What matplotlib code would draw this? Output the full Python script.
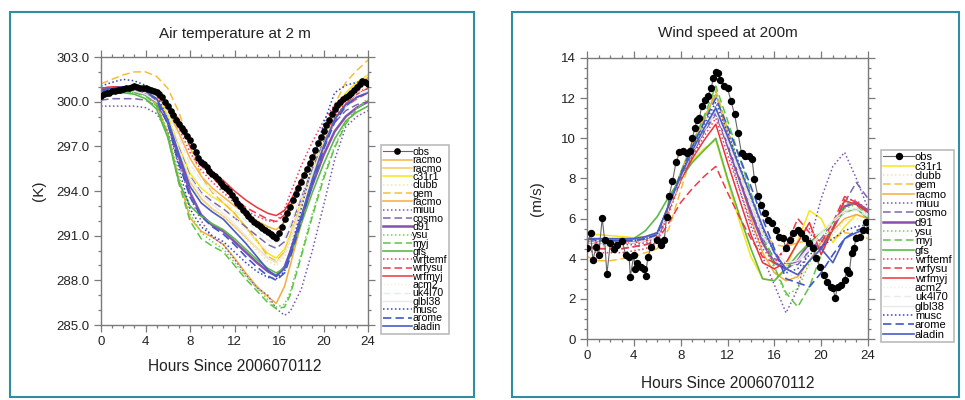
import numpy as np
import matplotlib
matplotlib.use("Agg")
import matplotlib.pyplot as plt
from matplotlib.patches import FancyBboxPatch
from matplotlib.ticker import MultipleLocator, FormatStrFormatter

plt.rcParams['font.family'] = ['Liberation Sans', 'DejaVu Sans']

# ---------------- data: 2 m air temperature ----------------
obs_t_hours = np.arange(0, 24.01, 0.25)
obs_t_vals = [300.35, 300.5, 300.6, 300.55, 300.7, 300.75, 300.8, 300.8, 300.85, 300.9,
              300.95, 301.0, 301.05, 301.0, 300.95, 300.95, 300.9, 300.85, 300.8, 300.75,
              300.65, 300.5, 300.3, 300.0, 299.7, 299.4, 299.1, 298.8, 298.5, 298.25,
              298.0, 297.7, 297.4, 297.0, 296.6, 296.2, 295.95, 295.8, 295.6, 295.35,
              295.15, 295.0, 294.8, 294.55, 294.35, 294.2, 294.0, 293.7, 293.45, 293.2,
              293.0, 292.75, 292.55, 292.35, 292.15, 291.95, 291.8, 291.65, 291.5, 291.4,
              291.25, 291.1, 291.0, 290.85, 291.15, 291.6, 292.1, 292.5, 292.95, 293.4,
              293.8, 294.2, 294.6, 295.05, 295.5, 295.9, 296.3, 296.75, 297.2, 297.6,
              298.0, 298.4, 298.8, 299.15, 299.5, 299.8, 300.0, 300.15, 300.3, 300.45,
              300.6, 300.8, 301.0, 301.2, 301.4, 301.35, 301.2]

t_hours = [0, 1, 2, 3, 4, 5, 6, 7, 8, 9, 10, 11, 12, 13, 14, 15, 15.75, 16.5,
           17, 18, 19, 20, 21, 22, 23, 24]

t_labels = ["racmo", "racmo", "c31r1", "clubb", "gem", "racmo", "miuu", "cosmo", "d91",
            "ysu", "myj", "gfs", "wrftemf", "wrfysu", "wrfmyj", "acm2", "uk4l70",
            "glbl38", "musc", "arome", "aladin"]

t_racmo_a = [300.7, 300.9, 301.0, 300.9, 300.8, 300.4, 299.4, 297.9, 296.2, 295.0, 294.2, 293.6, 293.0,
             292.5, 292.0, 291.6, 291.4, 291.9, 292.7, 294.5, 296.2, 297.8, 299.2, 300.3, 301.1, 301.6]
t_racmo_b = [300.6, 300.8, 300.9, 300.8, 300.7, 300.2, 298.9, 296.6, 294.6, 293.5, 292.8, 292.3, 291.6,
             290.9, 290.2, 289.5, 289.2, 289.9, 290.8, 293.0, 295.2, 297.2, 298.9, 300.2, 301.0, 301.5]
t_c31r1 = [300.8, 301.0, 301.0, 300.9, 300.8, 300.3, 299.1, 297.0, 295.2, 294.2, 293.6, 293.2, 292.5,
           291.6, 290.6, 289.8, 289.5, 290.1, 291.1, 293.4, 295.6, 297.6, 299.4, 300.6, 301.3, 301.8]
t_clubb = [300.5, 300.7, 300.8, 300.8, 300.6, 300.1, 298.8, 296.5, 294.5, 293.4, 292.8, 292.3, 291.6,
           290.8, 290.0, 289.3, 289.0, 289.6, 290.5, 292.7, 294.9, 296.9, 298.6, 299.9, 300.7, 301.2]
t_gem = [301.2, 301.5, 301.8, 302.0, 302.0, 301.7, 300.9, 299.3, 297.0, 295.0, 293.9, 293.2, 292.5,
         291.6, 290.7, 289.6, 289.3, 289.9, 290.9, 293.3, 295.7, 297.9, 299.8, 301.3, 302.1, 302.8]
t_racmo_c = [300.4, 300.7, 300.8, 300.7, 300.5, 299.8, 297.9, 294.8, 292.2, 291.3, 290.9, 290.4, 289.5,
             288.5, 287.6, 286.9, 286.45, 287.6, 289.0, 291.8, 294.5, 296.8, 298.7, 300.2, 301.1, 301.6]
t_miuu = [299.7, 299.7, 299.7, 299.7, 299.6, 299.2, 298.0, 295.8, 293.6, 292.0, 290.9, 290.4, 289.4,
          288.4, 287.5, 287.0, 286.1, 285.65, 285.9, 287.4, 290.0, 293.0, 296.1, 298.3, 299.0, 299.4]
t_cosmo = [300.1, 300.2, 300.2, 300.2, 300.1, 299.7, 298.7, 296.9, 295.0, 293.9, 293.3, 292.8, 292.2,
           291.6, 291.0, 290.4, 290.15, 290.6, 291.5, 293.5, 295.5, 297.3, 298.6, 299.4, 299.8, 300.0]
t_d91 = [300.5, 300.7, 300.8, 300.7, 300.5, 300.0, 298.6, 296.3, 293.9, 292.4, 291.7, 291.3, 290.6,
         289.9, 289.2, 288.6, 288.3, 288.9, 289.9, 292.2, 294.4, 296.4, 298.0, 299.0, 299.6, 300.0]
t_ysu = [300.3, 300.6, 300.7, 300.6, 300.4, 299.8, 298.0, 295.0, 292.5, 291.2, 290.6, 290.1, 289.2,
         288.3, 287.5, 286.7, 286.2, 286.4, 287.2, 289.8, 292.5, 295.0, 297.0, 298.6, 299.6, 300.2]
t_myj = [300.4, 300.6, 300.7, 300.6, 300.4, 299.7, 297.7, 294.5, 292.0, 290.8, 290.3, 289.9, 289.0,
         288.1, 287.3, 286.5, 286.1, 286.2, 287.0, 289.6, 292.3, 294.8, 296.9, 298.5, 299.5, 300.1]
t_gfs = [300.5, 300.6, 300.6, 300.5, 300.2, 299.5, 297.6, 294.6, 293.0, 292.3, 291.8, 291.4, 290.8,
         290.1, 289.4, 288.8, 288.5, 288.8, 289.6, 291.8, 293.9, 295.8, 297.5, 298.7, 299.3, 299.7]
t_wrftemf = [300.8, 300.9, 301.0, 300.9, 300.8, 300.4, 299.4, 298.2, 296.6, 295.4, 294.6, 293.9, 293.2,
             292.7, 292.3, 292.0, 291.9, 292.8, 293.8, 295.7, 297.3, 298.7, 299.8, 300.4, 300.7, 300.9]
t_wrfysu = [300.9, 301.0, 301.0, 300.9, 300.8, 300.5, 299.6, 298.5, 297.0, 295.7, 294.9, 294.2, 293.5,
            292.9, 292.5, 292.1, 291.95, 292.4, 293.0, 294.6, 296.2, 297.7, 298.9, 299.7, 300.2, 300.6]
t_wrfmyj = [300.9, 301.0, 301.0, 301.0, 300.9, 300.6, 299.8, 298.8, 297.3, 296.1, 295.3, 294.7, 294.0,
            293.4, 292.9, 292.5, 292.35, 292.7, 293.3, 294.8, 296.3, 297.8, 299.0, 299.9, 300.5, 300.9]
t_acm2 = [300.6, 300.8, 300.9, 300.8, 300.6, 300.1, 299.0, 297.2, 295.4, 294.3, 293.6, 293.0, 292.2,
          291.4, 290.6, 290.0, 289.8, 290.3, 291.2, 293.4, 295.6, 297.5, 299.0, 300.0, 300.6, 301.0]
t_uk4l70 = [300.7, 300.9, 300.9, 300.8, 300.7, 300.3, 299.3, 297.6, 295.8, 294.7, 294.0, 293.4, 292.7,
            292.0, 291.3, 290.7, 290.5, 290.9, 291.7, 293.8, 295.9, 297.7, 299.1, 300.0, 300.5, 300.8]
t_glbl38 = [300.5, 300.7, 300.8, 300.7, 300.5, 300.0, 298.8, 296.8, 294.9, 293.8, 293.1, 292.5, 291.8,
            291.0, 290.2, 289.5, 289.2, 289.8, 290.8, 293.0, 295.2, 297.1, 298.7, 299.7, 300.3, 300.7]
t_musc = [301.05, 301.3, 301.5, 301.4, 301.1, 300.5, 298.8, 295.5, 292.8, 291.6, 291.0, 290.6, 289.9,
          289.2, 288.6, 288.2, 288.1, 288.6, 289.9, 292.8, 295.8, 298.5, 300.6, 301.1, 301.3, 301.5]
t_arome = [300.7, 300.9, 301.0, 300.9, 300.7, 300.1, 298.5, 295.9, 293.6, 292.3, 291.6, 291.1, 290.4,
           289.6, 288.9, 288.3, 288.0, 288.5, 289.5, 292.0, 294.5, 296.8, 298.6, 299.7, 300.3, 300.6]
t_aladin = [300.8, 300.9, 301.0, 300.9, 300.7, 300.2, 298.8, 296.5, 294.3, 293.2, 292.6, 292.1, 291.3,
            290.5, 289.6, 288.7, 288.25, 288.8, 289.8, 292.3, 294.8, 297.0, 298.8, 299.8, 300.3, 300.6]

t_series = [t_racmo_a, t_racmo_b, t_c31r1, t_clubb, t_gem, t_racmo_c, t_miuu, t_cosmo, t_d91,
            t_ysu, t_myj, t_gfs, t_wrftemf, t_wrfysu, t_wrfmyj, t_acm2, t_uk4l70, t_glbl38,
            t_musc, t_arome, t_aladin]

# ---------------- data: wind speed at 200 m ----------------
obs_w_hours = [0.0, 0.3, 0.5, 0.8, 1.0, 1.3, 1.5, 1.7, 2.0, 2.3, 2.6, 3.0, 3.3, 3.6, 3.7, 4.0, 4.1,
               4.3, 4.6, 4.9, 5.0, 5.2, 5.5, 6.0, 6.3, 6.6, 6.8, 7.0, 7.3, 7.6, 7.9, 8.2, 8.5,
               8.8, 9.0, 9.2, 9.4, 9.6, 9.8, 10.1, 10.3, 10.6, 10.8, 11.0, 11.2, 11.4, 11.7,
               12.0, 12.3, 12.6, 12.9, 13.2, 13.5, 13.8, 14.1, 14.3, 14.6, 14.9, 15.2, 15.5,
               15.8, 16.1, 16.4, 16.7, 17.0, 17.3, 17.6, 18.0, 18.3, 18.6, 19.0, 19.3, 19.6,
               19.9, 20.2, 20.5, 20.8, 21.0, 21.2, 21.4, 21.7, 22.0, 22.2, 22.4, 22.6, 22.8,
               23.0, 23.3, 23.6, 23.8, 24.0]
obs_w_vals = [4.55, 5.3, 3.95, 4.6, 4.2, 6.03, 4.95, 3.24, 4.8, 4.5, 4.7, 4.9, 4.2, 4.1, 3.1, 4.2,
              3.5, 3.8, 3.6, 3.5, 3.15, 4.1, 4.6, 4.95, 4.7, 4.95, 6.1, 7.1, 7.85, 8.8, 9.3, 9.35,
              9.25, 9.35, 10.0, 10.5, 10.9, 11.0, 11.6, 11.9, 12.1, 12.5, 13.0, 13.3, 13.25,
              12.9, 12.6, 12.5, 11.85, 11.2, 10.25, 9.25, 9.1, 9.1, 8.95, 7.95, 7.1, 6.7, 6.3,
              5.95, 5.8, 5.45, 5.1, 5.05, 4.55, 4.95, 5.3, 5.45, 5.3, 5.05, 4.8, 4.55, 4.05,
              3.6, 3.2, 2.85, 2.6, 2.55, 2.05, 2.6, 2.7, 2.95, 3.45, 3.3, 4.3, 4.55, 5.05, 5.1,
              5.45, 5.85, 5.45]

w_hours = list(range(0, 25))

w_labels = ["c31r1", "clubb", "gem", "racmo", "miuu", "cosmo", "d91", "ysu", "myj", "gfs",
            "wrftemf", "wrfysu", "wrfmyj", "acm2", "uk4l70", "glbl38", "musc", "arome", "aladin"]

w_c31r1 = [5.2, 5.2, 5.15, 5.1, 5.05, 5.1, 5.3, 6.6, 7.9, 8.9, 9.5, 9.9, 7.9, 5.9, 4.1, 3.0, 2.9,
           3.6, 4.9, 6.4, 6.0, 4.8, 5.6, 6.2, 6.0]
w_clubb = [4.7, 4.6, 4.6, 4.6, 4.6, 4.7, 5.0, 6.2, 7.8, 9.2, 10.3, 11.3, 9.6, 7.8, 6.2, 5.0, 4.0,
           3.3, 3.0, 3.6, 4.5, 5.2, 5.9, 6.0, 5.8]
w_gem = [4.1, 3.9, 3.9, 4.0, 4.1, 4.3, 4.5, 5.5, 7.4, 9.3, 10.9, 12.4, 10.5, 8.5, 6.6, 5.3, 4.7,
         4.6, 4.8, 4.9, 4.9, 5.0, 5.3, 5.2, 5.0]
w_racmo = [4.8, 4.8, 4.8, 4.8, 4.8, 4.9, 5.1, 6.7, 8.3, 9.8, 11.0, 12.2, 10.2, 8.1, 6.0, 4.3, 3.3,
           2.9, 3.1, 3.9, 4.8, 5.4, 6.0, 6.2, 6.0]
w_miuu = [4.8, 4.7, 4.7, 4.7, 4.7, 4.8, 5.0, 6.5, 8.0, 9.4, 10.5, 11.6, 9.6, 7.5, 5.6, 4.1, 2.7,
          1.3, 2.5, 4.8, 7.0, 8.6, 9.3, 8.0, 6.5]
w_cosmo = [4.6, 4.5, 4.5, 4.5, 4.6, 4.7, 4.9, 6.4, 7.9, 9.2, 10.3, 11.2, 9.6, 8.0, 6.4, 5.0, 4.0,
           3.8, 3.7, 4.4, 5.0, 5.8, 6.8, 7.8, 7.0]
w_d91 = [4.9, 4.9, 4.9, 4.9, 4.9, 5.0, 5.2, 6.6, 8.1, 9.3, 10.4, 11.4, 9.7, 8.0, 6.3, 4.8, 3.8,
         3.5, 3.9, 4.8, 4.5, 5.5, 6.6, 6.8, 6.4]
w_ysu = [4.9, 4.8, 4.8, 4.8, 4.8, 4.9, 5.1, 6.6, 8.1, 9.5, 10.8, 12.3, 10.5, 8.7, 6.9, 5.1, 3.5,
         2.2, 2.5, 3.8, 4.9, 5.8, 6.5, 6.7, 6.2]
w_myj = [5.0, 4.9, 4.9, 4.9, 4.9, 5.0, 5.2, 6.7, 8.3, 9.7, 11.1, 12.6, 10.9, 9.1, 7.3, 5.5, 3.6,
         2.3, 1.6, 2.6, 4.2, 5.5, 6.8, 6.7, 6.0]
w_gfs = [5.0, 4.9, 4.9, 4.9, 5.0, 5.4, 6.1, 7.1, 8.0, 8.8, 9.4, 10.0, 8.0, 6.2, 4.5, 3.0, 2.9,
         3.5, 4.2, 4.8, 5.3, 5.8, 6.3, 6.5, 6.0]
w_wrftemf = [4.4, 4.3, 4.3, 4.3, 4.4, 4.5, 4.8, 6.3, 7.9, 9.1, 10.1, 11.0, 9.2, 7.5, 5.8, 4.5, 3.8,
             4.5, 5.3, 5.5, 4.8, 5.5, 7.0, 6.9, 6.4]
w_wrfysu = [4.6, 4.5, 4.5, 4.5, 4.6, 4.7, 4.9, 5.8, 6.8, 7.5, 8.1, 8.6, 7.3, 6.1, 5.0, 4.1, 3.8,
            4.6, 6.0, 5.3, 4.8, 5.8, 7.1, 6.8, 6.3]
w_wrfmyj = [4.8, 4.8, 4.8, 4.8, 4.8, 4.9, 5.1, 6.5, 7.9, 9.0, 9.9, 10.7, 8.8, 7.0, 5.2, 3.8, 3.5,
            3.8, 4.8, 5.8, 4.2, 5.5, 6.9, 6.7, 6.3]
w_acm2 = [4.9, 4.8, 4.8, 4.8, 4.8, 4.9, 5.1, 6.6, 8.1, 9.4, 10.5, 11.5, 10.0, 8.5, 7.0, 6.4, 6.0,
          5.6, 5.3, 5.2, 5.3, 5.4, 5.5, 5.3, 5.0]
w_uk4l70 = [4.8, 4.8, 4.8, 4.8, 4.8, 4.9, 5.1, 6.5, 8.0, 9.3, 10.4, 11.3, 9.8, 8.2, 6.6, 5.2, 4.2,
            3.6, 3.8, 4.5, 5.2, 5.8, 6.3, 6.4, 6.1]
w_glbl38 = [4.9, 4.9, 4.9, 4.9, 4.9, 5.0, 5.2, 6.6, 8.1, 9.4, 10.5, 11.4, 9.9, 8.3, 6.8, 5.4, 4.4,
            3.8, 3.9, 4.6, 5.3, 5.9, 6.4, 6.5, 6.2]
w_musc = [4.9, 4.9, 4.9, 4.9, 4.9, 5.0, 5.2, 6.7, 8.2, 9.5, 10.7, 11.8, 10.3, 8.7, 7.1, 5.5, 4.3,
          3.3, 3.5, 4.2, 4.6, 5.0, 5.4, 5.6, 5.7]
w_arome = [5.0, 4.9, 4.9, 4.9, 4.9, 5.0, 5.2, 6.7, 8.2, 9.6, 10.8, 12.0, 10.6, 9.1, 7.6, 6.0, 4.5,
           3.0, 2.8, 2.6, 3.3, 4.2, 5.0, 5.4, 5.6]
w_aladin = [5.0, 5.0, 5.0, 5.0, 5.0, 5.1, 5.3, 6.7, 8.1, 9.4, 10.5, 11.5, 10.1, 8.6, 7.1, 5.6, 4.3,
            3.5, 3.2, 3.9, 4.5, 3.8, 5.0, 5.3, 5.5]

w_series = [w_c31r1, w_clubb, w_gem, w_racmo, w_miuu, w_cosmo, w_d91, w_ysu, w_myj, w_gfs,
            w_wrftemf, w_wrfysu, w_wrfmyj, w_acm2, w_uk4l70, w_glbl38, w_musc, w_arome, w_aladin]

# ---------------- styles ----------------
DASH = (0, (5, 2.5))
DOT = (0, (1, 1.6))
style = {
    "racmo_a": ("#f7b441", "-", 1.1),
    "racmo_b": ("#f8c862", "-", 1.1),
    "c31r1": ("#f9e41a", "-", 1.1),
    "clubb": ("#f7e49a", DOT, 1.1),
    "gem": ("#f6bd3a", DASH, 1.1),
    "racmo": ("#f5ac3a", "-", 1.1),
    "miuu": ("#7c55ad", DOT, 1.1),
    "cosmo": ("#7f66b0", DASH, 1.1),
    "d91": ("#8650ae", "-", 1.8),
    "ysu": ("#73d14a", DOT, 1.1),
    "myj": ("#5ec447", DASH, 1.1),
    "gfs": ("#5cb94c", "-", 1.2),
    "wrftemf": ("#f03c64", DOT, 1.1),
    "wrfysu": ("#ee3a48", DASH, 1.1),
    "wrfmyj": ("#e8363c", "-", 1.1),
    "acm2": ("#edf2e2", DOT, 1.0),
    "uk4l70": ("#e4ecee", DASH, 1.0),
    "glbl38": ("#e9e9e9", "-", 1.0),
    "musc": ("#3444bf", DOT, 1.1),
    "arome": ("#3e58c6", DASH, 1.2),
    "aladin": ("#4a5cc6", "-", 1.2),
}
t_keys = ["racmo_a", "racmo_b", "c31r1", "clubb", "gem", "racmo", "miuu", "cosmo", "d91",
          "ysu", "myj", "gfs", "wrftemf", "wrfysu", "wrfmyj", "acm2", "uk4l70", "glbl38",
          "musc", "arome", "aladin"]
w_keys = ["c31r1", "clubb", "gem", "racmo", "miuu", "cosmo", "d91", "ysu", "myj", "gfs",
          "wrftemf", "wrfysu", "wrfmyj", "acm2", "uk4l70", "glbl38", "musc", "arome", "aladin"]

W, H = 965, 400
fig = plt.figure(figsize=(W / 100, H / 100), dpi=100)

def fx(px):
    return px / W

def fy(py):
    return 1 - py / H

# panel frames
frame_col = "#2f8ea3"
for x0, x1 in [(10, 474), (512, 959)]:
    fig.patches.append(FancyBboxPatch((fx(x0), fy(397)), fx(x1 - x0), (397 - 12) / H,
                                      boxstyle="square,pad=0", transform=fig.transFigure,
                                      fill=False, edgecolor=frame_col, linewidth=1.5))

def style_axes(ax):
    for s in ax.spines.values():
        s.set_color("#7a7a7a")
        s.set_linewidth(1.0)
    ax.tick_params(which="both", direction="out", top=True, right=True, colors="#7a7a7a",
                   labelcolor="#222222", labelsize=9.5, width=0.9)
    ax.tick_params(which="major", length=5, pad=3)
    ax.tick_params(which="minor", length=2.5)

# ---------------- left panel ----------------
ax1 = fig.add_axes([fx(101), fy(325), fx(368 - 101), (325 - 57) / H])
for key, lab, vals in zip(t_keys, t_labels, t_series):
    c, ls, lw = style[key]
    ax1.plot(t_hours, vals, color=c, linestyle=ls, linewidth=lw, label=lab)
ax1.plot(obs_t_hours, obs_t_vals, color="#666666", linewidth=0.8, marker="o",
         markersize=3.8, markerfacecolor="black", markeredgecolor="black", label="obs",
         zorder=5)
ax1.set_xlim(0, 24)
ax1.set_ylim(285, 303)
ax1.xaxis.set_major_locator(MultipleLocator(4))
ax1.xaxis.set_minor_locator(MultipleLocator(1))
ax1.yaxis.set_major_locator(MultipleLocator(3))
ax1.yaxis.set_minor_locator(MultipleLocator(1))
ax1.yaxis.set_major_formatter(FormatStrFormatter("%.1f"))
style_axes(ax1)
ax1.set_title("Air temperature at 2 m", fontsize=11, pad=14, color="#222222")
ax1.set_xlabel("Hours Since 2006070112", fontsize=11.2, labelpad=8, color="#222222")
ax1.set_ylabel("(K)", fontsize=11, labelpad=8, color="#222222")
h, l = ax1.get_legend_handles_labels()
order = [len(h) - 1] + list(range(len(h) - 1))
leg1 = fig.legend([h[i] for i in order], [l[i] for i in order], loc="upper left",
                  bbox_to_anchor=(fx(381), fy(145)), fontsize=7.6, labelspacing=-0.16,
                  handlelength=2.7, handletextpad=0.05, borderpad=0.2, borderaxespad=0,
                  fancybox=False, edgecolor="#bbbbbb", framealpha=1, numpoints=1)
leg1.get_frame().set_linewidth(1.2)

# ---------------- right panel ----------------
ax2 = fig.add_axes([fx(587), fy(339), fx(868 - 587), (339 - 58) / H])
for key, lab, vals in zip(w_keys, w_labels, w_series):
    c, ls, lw = style[key]
    ax2.plot(w_hours, vals, color=c, linestyle=ls, linewidth=lw, label=lab)
ax2.plot(obs_w_hours, obs_w_vals, color="#666666", linewidth=0.8, marker="o",
         markersize=4.3, markerfacecolor="black", markeredgecolor="black", label="obs",
         zorder=5)
ax2.set_xlim(0, 24)
ax2.set_ylim(0, 14)
ax2.xaxis.set_major_locator(MultipleLocator(4))
ax2.xaxis.set_minor_locator(MultipleLocator(1))
ax2.yaxis.set_major_locator(MultipleLocator(2))
ax2.yaxis.set_minor_locator(MultipleLocator(0.5))
style_axes(ax2)
ax2.set_title("Wind speed at 200m", fontsize=11, pad=15, color="#222222")
ax2.set_xlabel("Hours Since 2006070112", fontsize=11.2, labelpad=10, color="#222222")
ax2.set_ylabel("(m/s)", fontsize=11, labelpad=12, color="#222222")
h, l = ax2.get_legend_handles_labels()
order = [len(h) - 1] + list(range(len(h) - 1))
leg2 = fig.legend([h[i] for i in order], [l[i] for i in order], loc="upper left",
                  bbox_to_anchor=(fx(881), fy(150)), fontsize=8.0, labelspacing=-0.06,
                  handlelength=2.8, handletextpad=0.05, borderpad=0.2, borderaxespad=0,
                  fancybox=False, edgecolor="#bbbbbb", framealpha=1, numpoints=1)
leg2.get_frame().set_linewidth(1.2)

fig.savefig("out.png", dpi=100)
